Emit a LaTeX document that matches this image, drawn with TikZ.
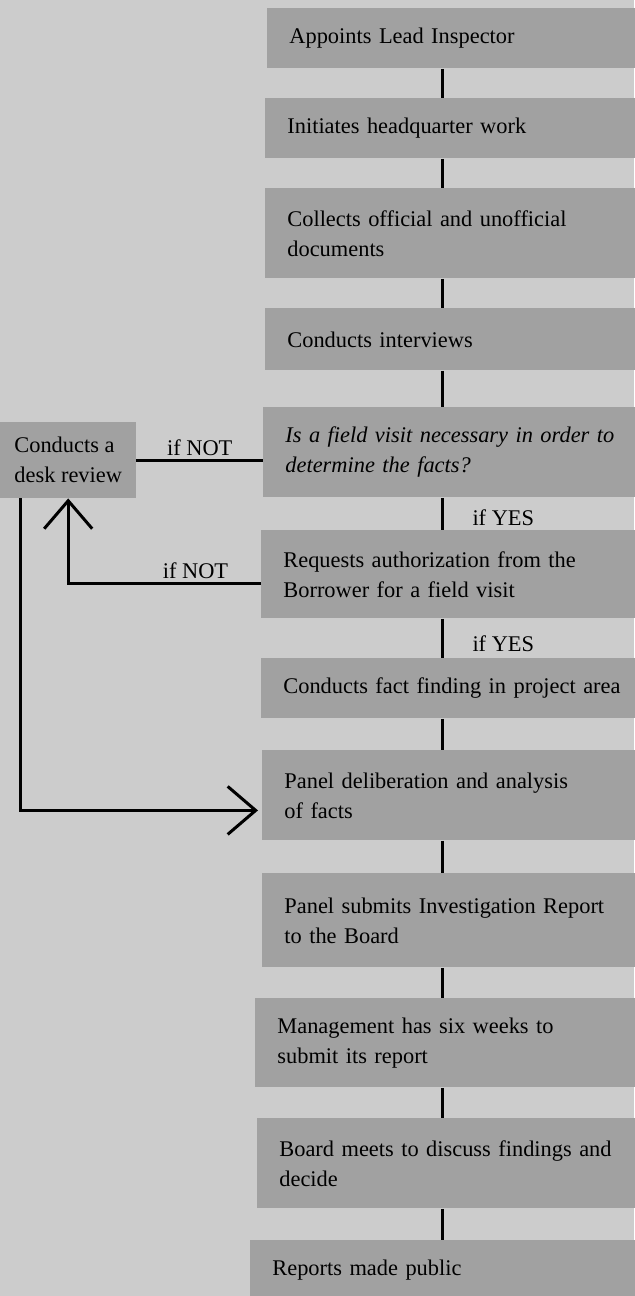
\documentclass[tikz,border=0pt]{standalone}
\usepackage{fontspec}
\setmainfont{Liberation Serif}
\usetikzlibrary{arrows.meta}
\definecolor{bggray}{gray}{0.80}
\definecolor{boxgray}{gray}{0.63}

\tikzset{
  stage/.style={fill=boxgray, anchor=north west, inner xsep=11pt, inner ysep=0pt,
    text width=185pt, align=left, minimum height=#1},
  link/.style={line width=1.5pt},
  cond/.style={inner sep=1.5pt}
}

\begin{document}
\begin{tikzpicture}[x=0.5pt, y=-0.5pt, font=\fontsize{11.2}{15}\selectfont,
    >={Straight Barb[length=14pt,width=24pt]}]
    % Page
    \fill[bggray] (0,0) rectangle (634,1296);
    \useasboundingbox (0,0) rectangle (634,1296);
    \coordinate (spine) at (442,0);

    % Main column of stages
    \node[stage=30pt] (lead) at (267,8) {Appoints Lead Inspector};
    \node[stage=30pt] (hq) at (265,98) {Initiates headquarter work};
    \node[stage=45pt] (docs) at (265,188) {Collects official and unofficial\\documents};
    \node[stage=31pt] (interviews) at (265,308) {Conducts interviews};
    \node[stage=45pt] (visit) at (263,407) {\itshape Is a field visit necessary in order to\\determine the facts?};
    \node[stage=44pt] (auth) at (261,530) {Requests authorization from the\\Borrower for a field visit};
    \node[stage=30pt] (facts) at (261,658) {Conducts fact finding in project area};
    \node[stage=45pt] (panel) at (262,750) {Panel deliberation and analysis\\of facts};
    \node[stage=47pt] (report) at (262,873) {Panel submits Investigation Report\\to the Board};
    \node[stage=44.5pt] (mgmt) at (255,998) {Management has six weeks to\\submit its report};
    \node[stage=45pt] (board) at (257,1118) {Board meets to discuss findings and\\decide};
    \node[stage=30pt] (public) at (250,1240) {Reports made public};

    % Side box
    \node[fill=boxgray, inner xsep=7pt, inner ysep=0pt, minimum height=38pt,
      align=left, anchor=west] (desk) at (0,460) {Conducts a\\desk review};

    % Straight links down the column
    \foreach \a/\b in {lead/hq, hq/docs, docs/interviews, interviews/visit,
        facts/panel, panel/report, report/mgmt, mgmt/board, board/public}
      \draw[link] (\a.south -| spine) -- (\b.north -| spine);

    % Yes branches
    \draw[link] (visit.south -| spine) -- (auth.north -| spine)
      node[cond, midway, right, xshift=13pt, yshift=-2pt] (yes1) {if YES};
    \draw[link] (auth.south -| spine) -- (facts.north -| spine)
      node[cond, midway, right, xshift=13pt, yshift=-2.5pt] (yes2) {if YES};

    % No branches
    \draw[link] (desk.east) -- (desk.east -| visit.west)
      node[cond, midway, above] (not1) {if NOT};
    \draw[link, ->] ([yshift=-4.5pt]auth.west) -| (desk.south)
      node[cond, pos=0.17, above] (not2) {if NOT};

    % Desk review back into the panel
    \draw[link, ->, shorten >=2pt] ([xshift=10pt]desk.south west) |- ([yshift=-7.5pt]panel.west);
\end{tikzpicture}
\end{document}
